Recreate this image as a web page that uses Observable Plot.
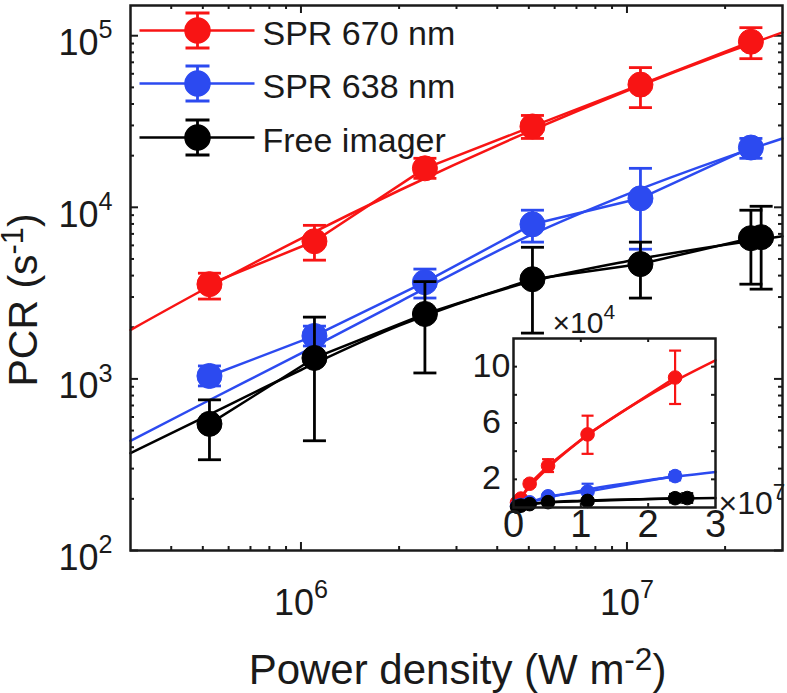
<!DOCTYPE html>
<html><head><meta charset="utf-8">
<script src="https://cdn.jsdelivr.net/npm/d3@7"></script>
<script src="https://cdn.jsdelivr.net/npm/@observablehq/plot@0.6"></script>
<style>
html,body{margin:0;padding:0;background:#fff;}
#wrap{position:relative;width:787px;height:693px;overflow:hidden;}
#wrap svg{position:absolute;left:0;top:0;}
</style></head><body><div id="wrap"></div>
<script>
// ---------- data ----------
const seriesNames = ["SPR 670 nm", "SPR 638 nm", "Free imager"];
const powerSPR = [5.24e5, 1.10e6, 2.40e6, 5.13e6, 1.10e7, 2.40e7];
const spr670   = [3565, 6340, 16870, 29600, 51900, 92300];
const spr670Lo = [2920, 4920, 14750, 25200, 38100, 73500];
const spr670Hi = [4130, 7850, 19300, 34300, 65200, 111400];
const spr638   = [1040, 1780, 3660, 7960, 11280, 22300];
const spr638Lo = [910, 1556, 2960, 6270, 5700, 19300];
const spr638Hi = [1190, 2030, 4365, 9620, 16870, 25200];
const powerFree = [5.24e5, 1.10e6, 2.40e6, 5.13e6, 1.10e7, 2.40e7, 2.58e7];
const free     = [547, 1325, 2390, 3810, 4670, 6610, 6700];
const freeLo   = [338, 436, 1083, 1849, 2958, 3565, 3335];
const freeHi   = [755, 2291, 3690, 5848, 6266, 9617, 10140];
// fitted curves
const powerFit = [3e5, 5e5, 1e6, 2e6, 5e6, 1e7, 2e7, 3e7];
const fit670   = [1928, 3296, 6560, 12530, 27600, 47800, 79300, 104500];
const fit638   = [436, 719, 1409, 2805, 6807, 11900, 19400, 25200];
const fitFree  = [369, 593, 1127, 2042, 3664, 4853, 6054, 6776];
// axes
const xDomain = [3e5, 3e7];
const yDomain = [100, 1.5e5];
const xTickValues = [1e6, 1e7];
const xTickLabels = ["10^{6}", "10^{7}"];
const xMinorTicks = [4e5,5e5,6e5,7e5,8e5,9e5,2e6,3e6,4e6,5e6,6e6,7e6,8e6,9e6,2e7];
const yTickValues = [1e2, 1e3, 1e4, 1e5];
const yTickLabels = ["10^{2}", "10^{3}", "10^{4}", "10^{5}"];
const yMinorTicks = [2e2,3e2,4e2,5e2,6e2,7e2,8e2,9e2,2e3,3e3,4e3,5e3,6e3,7e3,8e3,9e3,2e4,3e4,4e4,5e4,6e4,7e4,8e4,9e4];
const xLabel = "Power density (W m^{-2})";
const yLabel = "PCR (s^{-1})";
// inset axes
const insetXDomain = [0, 3e7];
const insetYDomain = [0, 1.2e5];
const insetXTickValues = [0, 1e7, 2e7, 3e7];
const insetXTickLabels = ["0", "1", "2", "3"];
const insetYTickMarks = [2e4, 4e4, 6e4, 8e4, 1e5];
const insetYTickValues = [2e4, 6e4, 1e5];
const insetYTickLabels = ["2", "6", "10"];
const insetXExponent = "×10^{7}";
const insetYExponent = "×10^{4}";

// ---------- styling ----------
const W = 787, H = 693;
const FONT = "'Liberation Sans', Arial, Helvetica, sans-serif";
const INK = "#1a1a1a";
const COLORS = ["#f81414", "#2c4af0", "#000000"];
const mainFrame = {left: 130, right: 782, top: 5, bottom: 550};
const insetFrame = {left: 513, right: 715, top: 338, bottom: 507};

const rows = (xs, ys, lo, hi) => xs.map((x, i) => ({x, y: ys[i], lo: lo ? lo[i] : null, hi: hi ? hi[i] : null}));
const series = [
  {name: seriesNames[0], color: COLORS[0], data: rows(powerSPR, spr670, spr670Lo, spr670Hi), fit: rows(powerFit, fit670)},
  {name: seriesNames[1], color: COLORS[1], data: rows(powerSPR, spr638, spr638Lo, spr638Hi), fit: rows(powerFit, fit638)},
  {name: seriesNames[2], color: COLORS[2], data: rows(powerFree, free, freeLo, freeHi), fit: rows(powerFit, fitFree)}
];

const capSymbol = {draw(ctx, size) { const w = Math.sqrt(size / Math.PI); ctx.moveTo(-w, 0); ctx.lineTo(w, 0); }};
const legendLine = {draw(ctx) { ctx.moveTo(-58, 0); ctx.lineTo(57, 0); }};
const legendErr = {draw(ctx) {
  ctx.moveTo(0, -17.5); ctx.lineTo(0, 17.5);
  ctx.moveTo(-12, -17.5); ctx.lineTo(12, -17.5);
  ctx.moveTo(-12, 17.5); ctx.lineTo(12, 17.5);
}};

function frameTicks(f, xMaj, xMin, yMaj, yMin, majLen, minLen, sw) {
  const fw = f.right - f.left, fh = f.bottom - f.top;
  const o = {stroke: INK, strokeWidth: sw};
  const m = [];
  for (const [vals, len] of [[xMaj, majLen], [xMin, minLen]]) {
    if (!vals.length) continue;
    m.push(Plot.tickX(vals, {x: d => d, insetTop: fh - len, ...o}));
    m.push(Plot.tickX(vals, {x: d => d, insetBottom: fh - len, ...o}));
  }
  for (const [vals, len] of [[yMaj, majLen], [yMin, minLen]]) {
    if (!vals.length) continue;
    m.push(Plot.tickY(vals, {y: d => d, insetRight: fw - len, ...o}));
    m.push(Plot.tickY(vals, {y: d => d, insetLeft: fw - len, ...o}));
  }
  return m;
}

function seriesMarks(s, opt) {
  return [
    Plot.line(s.fit, {x: "x", y: "y", stroke: s.color, strokeWidth: opt.lw, curve: "monotone-x", strokeLinejoin: "round"}),
    Plot.line(s.data, {x: "x", y: "y", stroke: s.color, strokeWidth: opt.lw, strokeLinejoin: "round"}),
    Plot.ruleX(s.data, {x: "x", y1: "lo", y2: "hi", stroke: s.color, strokeWidth: opt.ew}),
    Plot.dot(s.data, {x: "x", y: "hi", symbol: capSymbol, r: opt.cap, stroke: s.color, fill: "none", strokeWidth: opt.ew}),
    Plot.dot(s.data, {x: "x", y: "lo", symbol: capSymbol, r: opt.cap, stroke: s.color, fill: "none", strokeWidth: opt.ew}),
    Plot.dot(s.data, {x: "x", y: "y", r: opt.r, fill: s.color, stroke: s.color, strokeWidth: 1})
  ];
}

function superscriptify(svg) {
  d3.select(svg).selectAll("text").each(function() {
    const s = this.textContent;
    const m = /^(.*?)\^\{(.*?)\}(.*)$/.exec(s);
    if (!m) return;
    const fs = parseFloat(this.getAttribute("font-size") || this.parentNode.getAttribute("font-size") || "12");
    const big = fs >= 40;
    const supFs = fs * (big ? 0.75 : 0.7);
    const raise = fs * (big ? 0.33 : 0.47);
    const t = d3.select(this);
    t.text(null);
    t.append("tspan").text(m[1]);
    t.append("tspan").attr("font-size", supFs).attr("dy", -raise).text(m[2]);
    if (m[3]) t.append("tspan").attr("dy", raise).text(m[3]);
  });
}

// text helper: explicit anchors so the frameAnchor does not change them
const T = (data, o) => Plot.text(data, {lineAnchor: "middle", textAnchor: "middle", fill: INK, ...o});

// ---------- main plot ----------
const legendRows = [25, 78, 132];
const mainMarks = [
  ...frameTicks(mainFrame, xTickValues, xMinorTicks, yTickValues, yMinorTicks, 8, 4, 2),
  ...series.flatMap(s => seriesMarks(s, {lw: 2.5, ew: 2.8, cap: 11.5, r: 12.5})),
  // legend
  ...series.flatMap((s, i) => [
    Plot.dot([s.name], {frameAnchor: "top-left", dx: 67, dy: legendRows[i], symbol: legendLine, r: 1, stroke: s.color, fill: "none", strokeWidth: 2.5}),
    Plot.dot([s.name], {frameAnchor: "top-left", dx: 67, dy: legendRows[i], symbol: legendErr, r: 1, stroke: s.color, fill: "none", strokeWidth: 2.8}),
    Plot.dot([s.name], {frameAnchor: "top-left", dx: 67, dy: legendRows[i], r: 12.5, fill: s.color, stroke: s.color}),
    T([s.name], {frameAnchor: "top-left", dx: 132, dy: legendRows[i] + 4, textAnchor: "start", fontSize: 34})
  ]),
  // tick labels
  T(xTickValues, {x: d => d, text: (d, i) => xTickLabels[i], frameAnchor: "bottom", dy: 53, fontSize: 36}),
  T(yTickValues, {y: d => d, text: (d, i) => yTickLabels[i], frameAnchor: "left", textAnchor: "end", dx: -18, dy: 8, fontSize: 36}),
  // axis labels
  T([xLabel], {frameAnchor: "bottom", dx: 1, dy: 120, fontSize: 42}),
  T([yLabel], {frameAnchor: "left", rotate: -90, dx: -107, dy: 22, fontSize: 41}),
  Plot.frame({stroke: INK, strokeWidth: 2.5})
];

const main = Plot.plot({
  width: W, height: H,
  marginLeft: mainFrame.left, marginRight: W - mainFrame.right,
  marginTop: mainFrame.top, marginBottom: H - mainFrame.bottom,
  style: {fontFamily: FONT, background: "white", overflow: "visible"},
  x: {type: "log", domain: xDomain, axis: null},
  y: {type: "log", domain: yDomain, axis: null},
  marks: mainMarks
});
superscriptify(main);
document.getElementById("wrap").appendChild(main);

// ---------- inset ----------
const insetMarks = [
  Plot.frame({fill: "white", stroke: "none"}),
  ...frameTicks(insetFrame, insetXTickValues.slice(1, -1), [], insetYTickMarks, [], 4, 4, 2),
  ...series.flatMap(s => seriesMarks(s, {lw: 2.5, ew: 2.2, cap: 6, r: 6.8})),
  T(insetXTickValues, {x: d => d, text: (d, i) => insetXTickLabels[i], frameAnchor: "bottom", dy: 17, fontSize: 38}),
  T(insetYTickValues, {y: d => d, text: (d, i) => insetYTickLabels[i], frameAnchor: "left", dx: -22, dy: -1, fontSize: 34}),
  T([insetYExponent], {frameAnchor: "top-left", textAnchor: "start", dx: 39, dy: -15, fontSize: 30}),
  T([insetXExponent], {frameAnchor: "bottom-right", textAnchor: "start", dx: 3, dy: -4, fontSize: 32}),
  Plot.frame({stroke: INK, strokeWidth: 2.5})
];
const inset = Plot.plot({
  width: W, height: H,
  marginLeft: insetFrame.left, marginRight: W - insetFrame.right,
  marginTop: insetFrame.top, marginBottom: H - insetFrame.bottom,
  style: {fontFamily: FONT, background: "transparent", overflow: "visible"},
  x: {type: "linear", domain: insetXDomain, axis: null},
  y: {type: "linear", domain: insetYDomain, axis: null},
  marks: insetMarks
});
superscriptify(inset);
document.getElementById("wrap").appendChild(inset);
</script></body></html>
